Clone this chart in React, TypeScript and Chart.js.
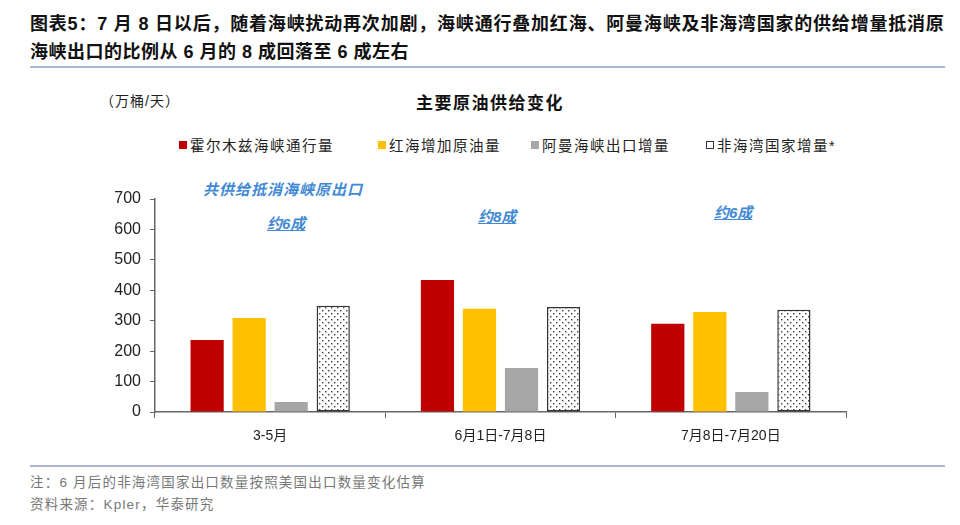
import { useEffect, useRef } from 'react';
import { Chart, registerables } from 'chart.js';

Chart.register(...registerables);

const categories = ['3-5月', '6月1日-7月8日', '7月8日-7月20日'];
const seriesNames = ['霍尔木兹海峡通行量', '红海增加原油量', '阿曼海峡出口增量', '非海湾国家增量*'];
const hormuz = [237, 434, 290];
const redSea = [309, 339, 329];
const oman = [33, 145, 66];
const nonGulf = [349, 345, 336];
const yTicks = [0, 100, 200, 300, 400, 500, 600, 700];

const RED = '#C00000';
const YELLOW = '#FFC000';
const GRAY = '#A6A6A6';
const BLUE = '#4289D4';
const CJK = '"Liberation Sans", "Noto Sans CJK SC", sans-serif';

function makeDots(ctx: CanvasRenderingContext2D) {
  const c = document.createElement('canvas');
  c.width = 6;
  c.height = 6;
  const g = c.getContext('2d')!;
  g.fillStyle = '#ffffff';
  g.fillRect(0, 0, 6, 6);
  g.fillStyle = '#3a3a3a';
  g.fillRect(1, 1, 1.4, 1.4);
  g.fillRect(4, 4, 1.4, 1.4);
  return ctx.createPattern(c, 'repeat')!;
}

function BarChart() {
  const canvasRef = useRef<HTMLCanvasElement>(null);
  const chartRef = useRef<Chart | null>(null);

  useEffect(() => {
    if (!canvasRef.current) return;
    if (chartRef.current) chartRef.current.destroy();
    const ctx = canvasRef.current.getContext('2d')!;
    const dots = makeDots(ctx);

    const common = { barPercentage: 0.79, categoryPercentage: 0.73 };

    chartRef.current = new Chart(ctx, {
      type: 'bar',
      data: {
        labels: categories,
        datasets: [
          { label: seriesNames[0], data: hormuz, backgroundColor: RED, ...common },
          { label: seriesNames[1], data: redSea, backgroundColor: YELLOW, ...common },
          { label: seriesNames[2], data: oman, backgroundColor: GRAY, ...common },
          {
            label: seriesNames[3],
            data: nonGulf,
            backgroundColor: dots,
            borderColor: '#333333',
            borderWidth: 1.5,
            borderSkipped: false,
            ...common,
          },
        ],
      },
      options: {
        responsive: true,
        maintainAspectRatio: false,
        animation: false,
        layout: { padding: { left: 0, right: 114, top: 49, bottom: 8 } },
        plugins: { legend: { display: false }, tooltip: { enabled: false } },
        scales: {
          x: {
            offset: true,
            grid: { display: true, drawOnChartArea: false, offset: true, tickLength: 6, color: '#666666', lineWidth: 1 },
            border: { color: '#666666', width: 1.5 },
            ticks: { color: '#222222', padding: 10, font: { family: CJK, size: 14 } },
            afterFit: (s: any) => { s.height = 40; },
          },
          y: {
            min: 0,
            max: 700,
            afterBuildTicks: (s: any) => { s.ticks = yTicks.map((v) => ({ value: v })); },
            grid: { display: true, drawOnChartArea: false, tickLength: 5, color: '#666666', lineWidth: 1 },
            border: { color: '#666666', width: 1.5 },
            ticks: { color: '#222222', padding: 9, font: { family: '"Liberation Sans", Arial, sans-serif', size: 16 } },
            afterFit: (s: any) => { s.width = 155; },
          },
        },
      },
    });

    return () => { chartRef.current?.destroy(); };
  }, []);

  return (
    <div style={{ position: 'absolute', left: 0, top: 150, width: 960, height: 310 }}>
      <canvas ref={canvasRef} />
    </div>
  );
}

const abs = (left: number, top: number): React.CSSProperties => ({ position: 'absolute', left, top, whiteSpace: 'nowrap' });

const legendItems = [
  { x: 179, color: RED },
  { x: 378, color: YELLOW },
  { x: 531, color: GRAY },
  { x: 706, color: 'dots' },
];

export default function App() {
  return (
    <div style={{ position: 'absolute', left: 0, top: 0, width: 960, height: 525, background: '#fff', overflow: 'hidden', fontFamily: CJK }}>
      <div style={{ ...abs(30, 9), fontSize: 18, fontWeight: 700, color: '#111', letterSpacing: 0.8 }}>
        图表5：7 月 8 日以后，随着海峡扰动再次加剧，海峡通行叠加红海、阿曼海峡及非海湾国家的供给增量抵消原
      </div>
      <div style={{ ...abs(30, 37), fontSize: 18, fontWeight: 700, color: '#111', letterSpacing: 0.5 }}>
        海峡出口的比例从 6 月的 8 成回落至 6 成左右
      </div>
      <div style={{ position: 'absolute', left: 30, top: 66, width: 915, height: 2, background: '#A7B9D1' }} />

      <div style={{ ...abs(100, 90), fontSize: 14, color: '#222', letterSpacing: 1 }}>（万桶/天）</div>
      <div style={{ position: 'absolute', left: 0, width: 980, top: 89, textAlign: 'center', fontSize: 17, fontWeight: 700, color: '#111', letterSpacing: 1.5 }}>
        主要原油供给变化
      </div>

      {legendItems.map((it, i) => (
        <div key={i} style={{ ...abs(it.x, 134), fontSize: 14.5, color: '#222', letterSpacing: 1.5, display: 'flex', alignItems: 'center' }}>
          <span
            style={{
              display: 'inline-block',
              width: 8,
              height: 8,
              marginRight: 3,
              background: it.color === 'dots' ? '#fff' : it.color,
              border: it.color === 'dots' ? '1px solid #333' : 'none',
              boxSizing: 'border-box',
            }}
          />
          {seriesNames[i]}
        </div>
      ))}

      <div style={{ ...abs(203, 178), fontSize: 15, fontWeight: 700, fontStyle: 'italic', color: BLUE, letterSpacing: 1 }}>
        共供给抵消海峡原出口
      </div>
      <div style={{ ...abs(267, 212), fontSize: 15, fontWeight: 700, fontStyle: 'italic', color: BLUE, textDecoration: 'underline' }}>约6成</div>
      <div style={{ ...abs(478, 205), fontSize: 15, fontWeight: 700, fontStyle: 'italic', color: BLUE, textDecoration: 'underline' }}>约8成</div>
      <div style={{ ...abs(714, 201), fontSize: 15, fontWeight: 700, fontStyle: 'italic', color: BLUE, textDecoration: 'underline' }}>约6成</div>

      <BarChart />

      <div style={{ position: 'absolute', left: 30, top: 465, width: 915, height: 1.5, background: '#A7B9D1' }} />
      <div style={{ ...abs(30, 471), fontSize: 13.5, color: '#777', letterSpacing: 1.2 }}>
        注：6 月后的非海湾国家出口数量按照美国出口数量变化估算
      </div>
      <div style={{ ...abs(30, 493), fontSize: 13.5, color: '#777', letterSpacing: 1.2 }}>资料来源：Kpler，华泰研究</div>
    </div>
  );
}
